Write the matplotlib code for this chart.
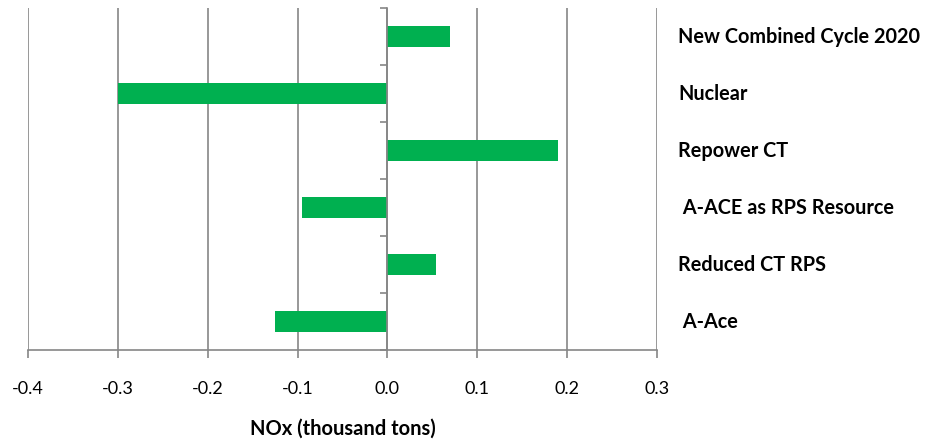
import matplotlib
matplotlib.use("Agg")
import matplotlib.pyplot as plt
from matplotlib.transforms import blended_transform_factory

# top to bottom as in the chart
cases = ["New Combined Cycle 2020", "Nuclear", "Repower CT",
         " A-ACE as RPS Resource", "Reduced CT RPS", " A-Ace"]
nox = [0.07, -0.30, 0.19, -0.095, 0.054, -0.125]
xticks = [-0.4, -0.3, -0.2, -0.1, 0.0, 0.1, 0.2, 0.3]

plt.rcParams['font.family'] = ['Lato', 'DejaVu Sans']

fig = plt.figure(figsize=(9.25, 4.45), dpi=100)
ax = fig.add_axes([28/925, 1 - 350/445, 629/925, 342/445])

n = len(cases)
ys = [n - 1 - i for i in range(n)]
ax.grid(axis="x", color="#868686", linewidth=1.2, zorder=0)
ax.barh(ys, nox, height=0.37, color="#00B050", zorder=3)

ax.set_xlim(-0.4, 0.3)
ax.set_ylim(-0.5, n - 0.5)
ax.set_xticks(xticks)
ax.set_xticklabels(["{:.1f}".format(v) for v in xticks], fontsize=13)
ax.set_yticks([k - 0.5 for k in range(n + 1)])
ax.set_yticklabels([])

for s in ["top", "right"]:
    ax.spines[s].set_visible(False)
ax.spines["left"].set_position(("data", 0))
ax.spines["left"].set_color("#868686")
ax.spines["left"].set_linewidth(1.2)
ax.spines["left"].set_zorder(4)
ax.spines["bottom"].set_color("#868686")
ax.spines["bottom"].set_linewidth(1.2)
ax.tick_params(axis="y", direction="out", length=5, color="#868686", width=1.2)
ax.tick_params(axis="x", direction="out", length=6, color="#868686", width=1.2, pad=16)

ax.set_xlabel("NOx (thousand tons)", fontsize=14.5, fontweight="bold", labelpad=16)

tr = blended_transform_factory(fig.transFigure, ax.transData)
for name, y in zip(cases, ys):
    ax.text(678/925, y, name, transform=tr, fontsize=14.3, fontweight="bold",
            va="center", ha="left")

fig.savefig("out.png", dpi=100)
